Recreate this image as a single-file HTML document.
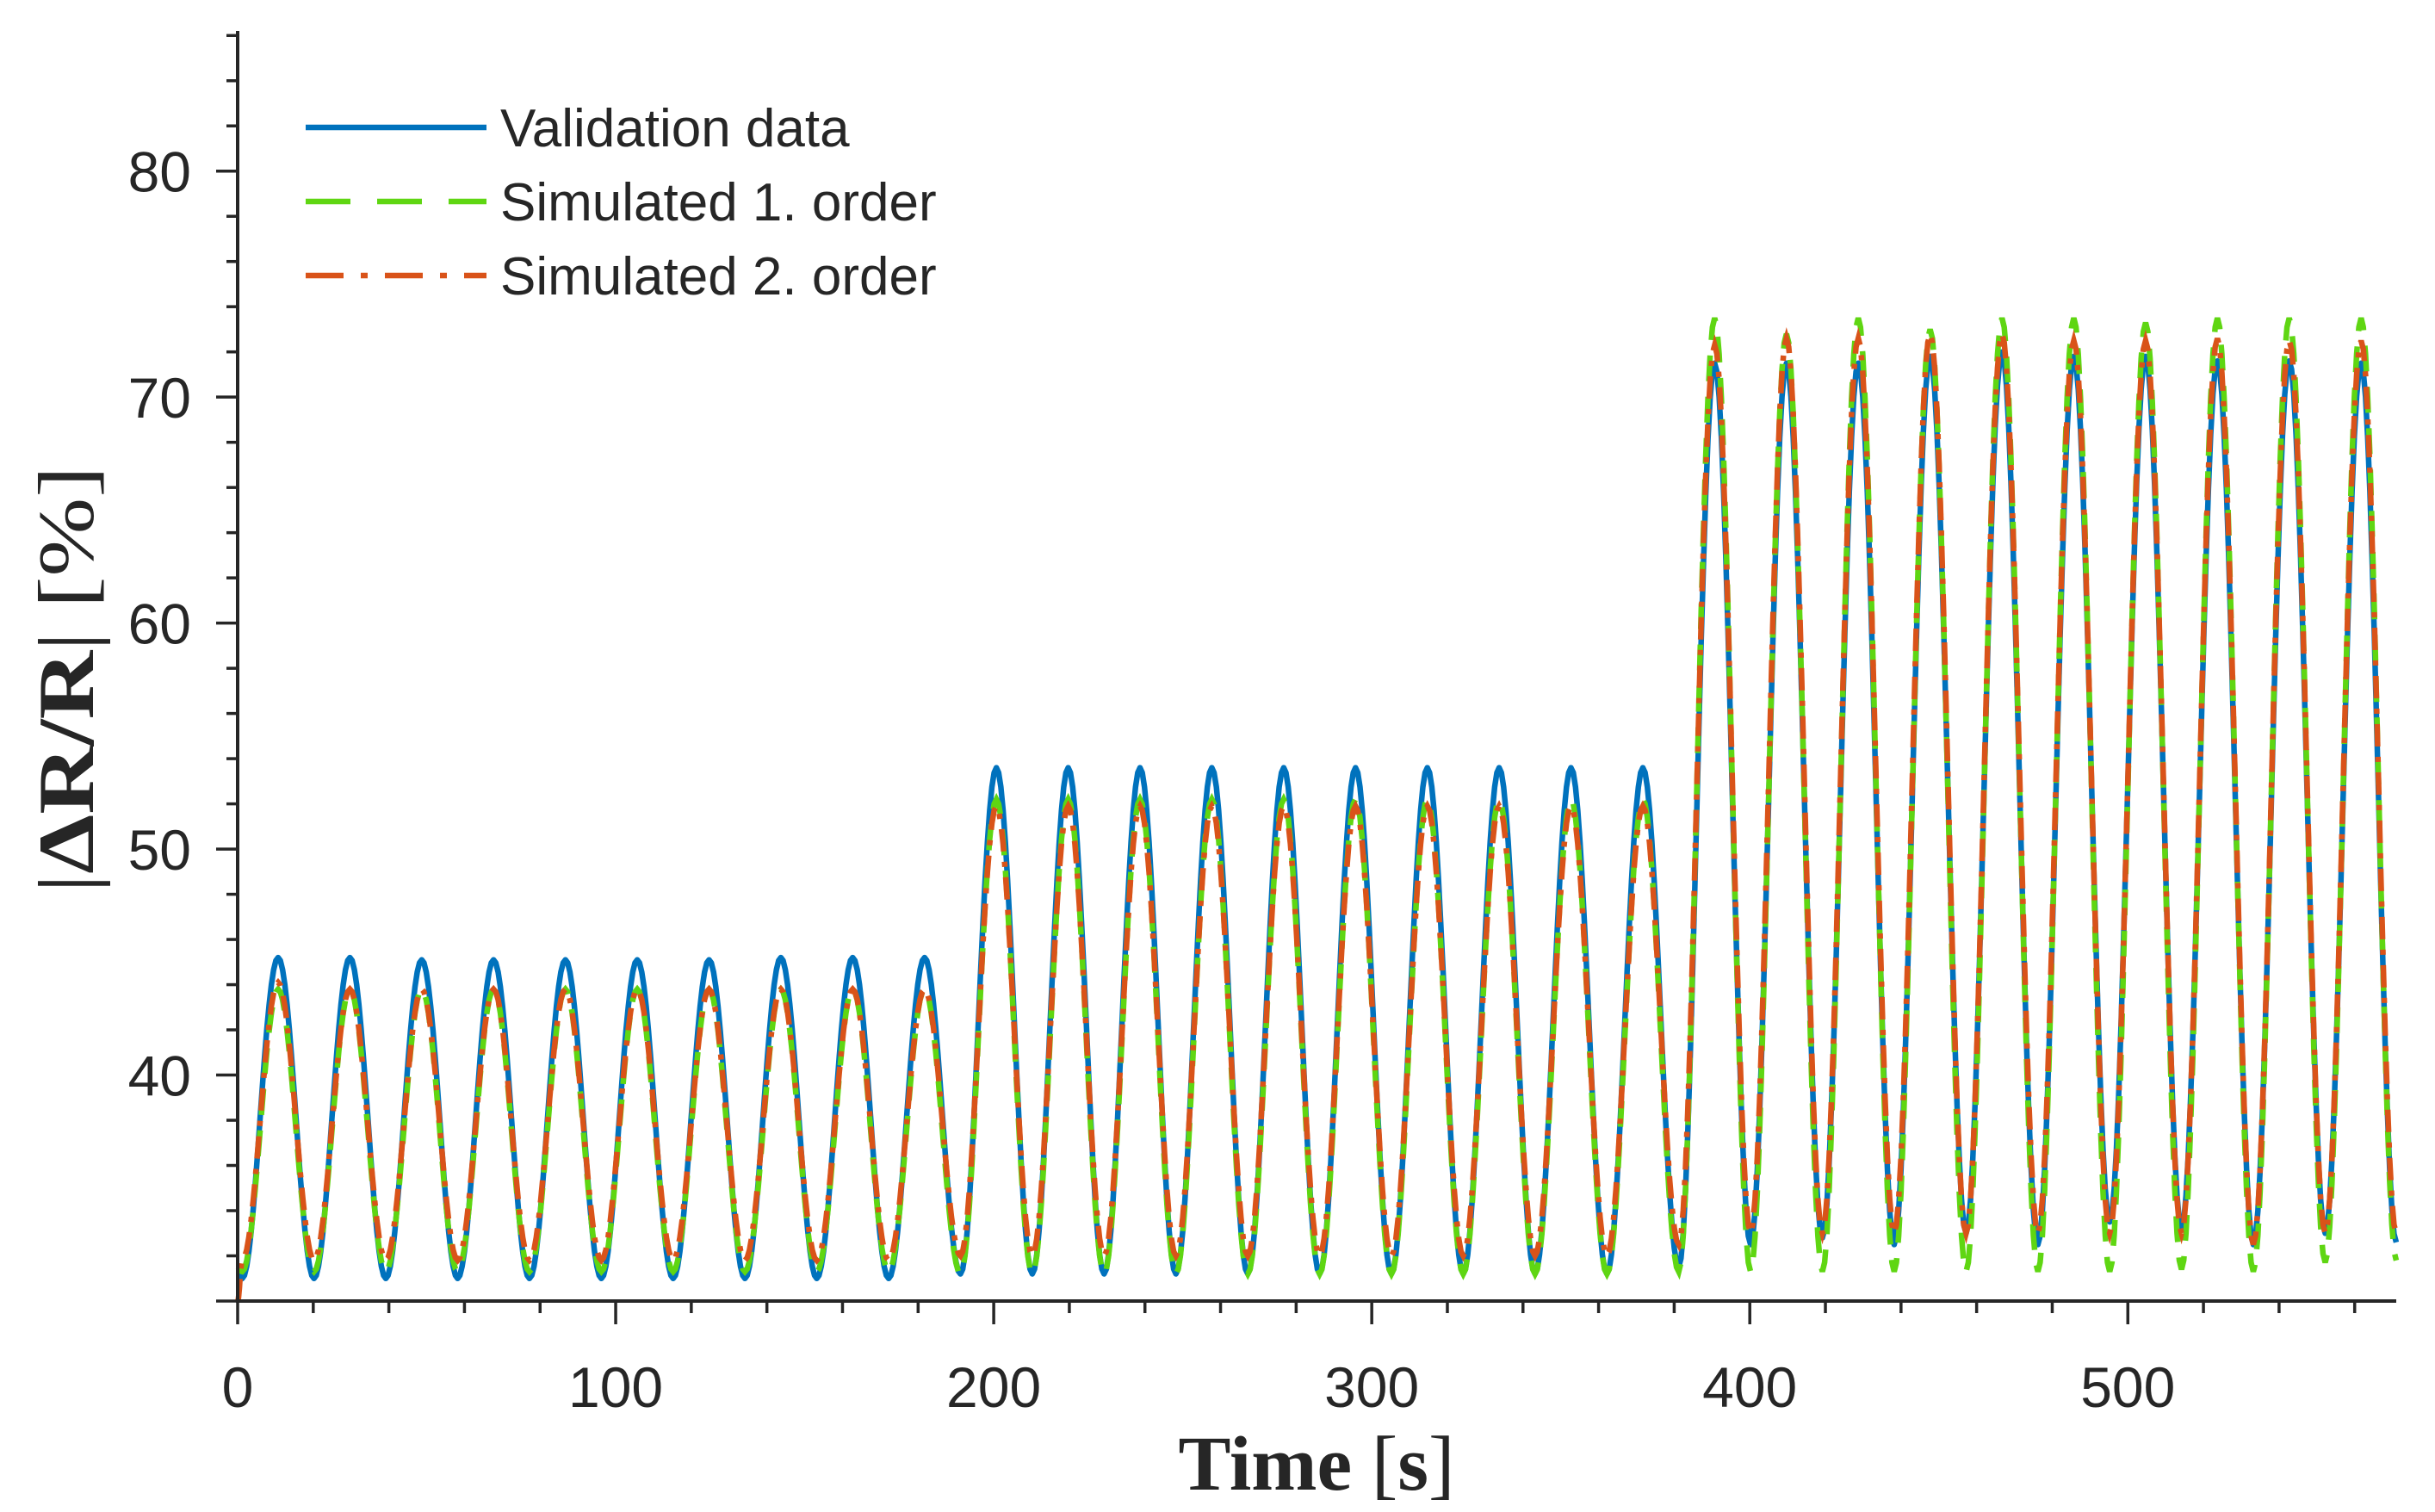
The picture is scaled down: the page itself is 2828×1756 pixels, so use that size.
<!DOCTYPE html>
<html><head><meta charset="utf-8"><style>
html,body{margin:0;padding:0;background:#fff;}
svg{display:block;}
text{font-family:"Liberation Sans",Arial,sans-serif;fill:#262626;}
.ttl{font-family:"Liberation Serif",serif;fill:#262626;}
</style></head><body>
<svg id="chart" width="2828" height="1756" viewBox="0 0 2828 1756" xmlns="http://www.w3.org/2000/svg">
<g id="series"></g>
<g id="axes"></g>
<g>
 <line x1="355" y1="148" x2="565" y2="148" stroke="#0072BD" stroke-width="6.5"/>
 <text x="581" y="170" font-size="62">Validation data</text>
 <line x1="355" y1="234" x2="565" y2="234" stroke="#5FD612" stroke-width="6.5" stroke-dasharray="52,31"/>
 <text x="581" y="256" font-size="62">Simulated 1. order</text>
 <line x1="355" y1="320" x2="565" y2="320" stroke="#D95319" stroke-width="6.5" stroke-dasharray="44,20,8,20"/>
 <text x="581" y="342" font-size="62">Simulated 2. order</text>
</g>
<text class="ttl" x="1529" y="1730" font-size="90" text-anchor="middle" textLength="321" lengthAdjust="spacingAndGlyphs"><tspan font-weight="bold">Time</tspan> [<tspan font-weight="bold">s</tspan>]</text>
<text class="ttl" transform="translate(108,789) rotate(-90)" font-size="92" text-anchor="middle" textLength="496" lengthAdjust="spacingAndGlyphs">|<tspan font-weight="bold">ΔR/R</tspan>| [%]</text>
</svg>
<script>
// extrema: index 0 = start (t=0), then alternating trough/peak, then end point
const blueVals = [31.5,
 31.0,45.2,31.0,45.2,31.0,45.1,31.0,45.1,31.0,45.1,31.0,45.1,31.0,45.1,31.0,45.2,31.0,45.2,31.0,45.2,
 31.2,53.6,31.2,53.6,31.2,53.6,31.2,53.6,31.2,53.6,31.2,53.6,31.2,53.6,31.2,53.6,31.2,53.6,31.2,53.6,
 31.5,71.5,32.5,71.5,32.8,71.5,32.5,71.8,33.0,72.0,32.5,71.8,33.5,71.8,33.2,71.6,32.5,71.6,33.0,71.5,
 32.6];
const sim1Vals = [31.5,
 31.3,43.8,31.3,43.8,31.3,43.8,31.3,43.8,31.3,43.8,31.3,43.8,31.3,43.8,31.3,43.8,31.3,43.8,31.3,43.8,
 31.2,52.2,31.2,52.2,31.2,52.2,31.2,52.2,31.2,52.2,31.2,52.2,31.2,52.2,31.2,52.2,31.2,52.2,31.2,52.2,
 31.3,73.5,31.3,72.8,31.3,73.5,31.3,73.0,31.3,73.5,31.3,73.5,31.3,73.3,31.4,73.5,31.3,73.5,31.7,73.5,
 31.8];
const sim2Vals = [30.0,
 31.8,44.1,31.8,43.8,31.8,43.8,31.8,43.8,31.8,43.8,31.8,43.8,31.8,43.8,31.8,43.8,31.8,43.8,31.8,43.8,
 32.0,51.9,32.0,51.9,32.0,51.9,32.0,51.9,32.0,51.9,32.0,51.9,32.0,51.9,32.0,51.9,32.0,51.9,32.0,51.9,
 32.5,72.3,33.0,72.6,33.0,72.6,33.0,72.8,33.0,72.8,33.0,72.5,33.0,72.5,33.0,72.6,32.5,72.5,33.0,72.5,
 33.0];
const extremaStart = 1.2, halfPeriod = 9.5, tEnd = 571;
const xTicks = [0,100,200,300,400,500];
const yTicks = [40,50,60,70,80];

const L=276, R=2783, B=1511, T=36, xMin=0, xMax=571, yMin=30, yMax=86.2;
const xs = v => L + (v - xMin) / (xMax - xMin) * (R - L);
const ys = v => B - (v - yMin) / (yMax - yMin) * (B - T);
const NS="http://www.w3.org/2000/svg";
function mk(tag, attrs, parent){const e=document.createElementNS(NS,tag);for(const k in attrs)e.setAttribute(k,attrs[k]);parent.appendChild(e);return e;}

function times(n){const t=[0];for(let j=0;j<n-2;j++)t.push(extremaStart+halfPeriod*j);t.push(tEnd);return t;}
function pathFor(vals){
  const t=times(vals.length);let d="M"+xs(t[0]).toFixed(1)+","+ys(vals[0]).toFixed(1);
  for(let i=1;i<vals.length;i++){
    const t0=t[i-1],t1=t[i],v0=vals[i-1],v1=vals[i];
    for(let s=1;s<=16;s++){const f=s/16,w=(1-Math.cos(Math.PI*f))/2;
      d+="L"+xs(t0+(t1-t0)*f).toFixed(1)+","+ys(v0+(v1-v0)*w).toFixed(1);}
  }
  return d;
}
const sg=document.getElementById('series');
const p1=mk('path',{d:pathFor(blueVals),fill:'none',stroke:'#0072BD','stroke-width':6.5,'stroke-linejoin':'round'},sg);


const p2=mk('path',{d:pathFor(sim1Vals),fill:'none',stroke:'#5FD612','stroke-width':6.5,'stroke-dasharray':'30,18'},sg);


const p3=mk('path',{d:pathFor(sim2Vals),fill:'none',stroke:'#D95319','stroke-width':6.5,'stroke-dasharray':'26,12,6,12'},sg);



const ax=document.getElementById('axes');
const xl=mk('line',{x1:L,y1:B,x2:R,y2:B,stroke:'#262626','stroke-width':4},ax);


const yl=mk('line',{x1:L,y1:B+2,x2:L,y2:T,stroke:'#262626','stroke-width':4},ax);


for(let v=0;v<=xMax;v+=20){const maj=v%100===0;
  const tk=mk('line',{x1:xs(v),y1:B,x2:xs(v),y2:B+(maj?27:14),stroke:'#262626','stroke-width':3.5},ax);
  
  }
for(let v=30;v<=86;v+=2){const maj=v%10===0;
  const tk=mk('line',{x1:L,y1:ys(v),x2:L-(maj?25:13),y2:ys(v),stroke:'#262626','stroke-width':3.5},ax);
  
  }
xTicks.forEach(v=>{const t=mk('text',{x:xs(v),y:1634,'font-size':66,'text-anchor':'middle'},ax);t.textContent=v;
  
  });
yTicks.forEach(v=>{const t=mk('text',{x:222,y:ys(v)+24,'font-size':66,'text-anchor':'end'},ax);t.textContent=v;
  
  });
</script>
</body></html>
